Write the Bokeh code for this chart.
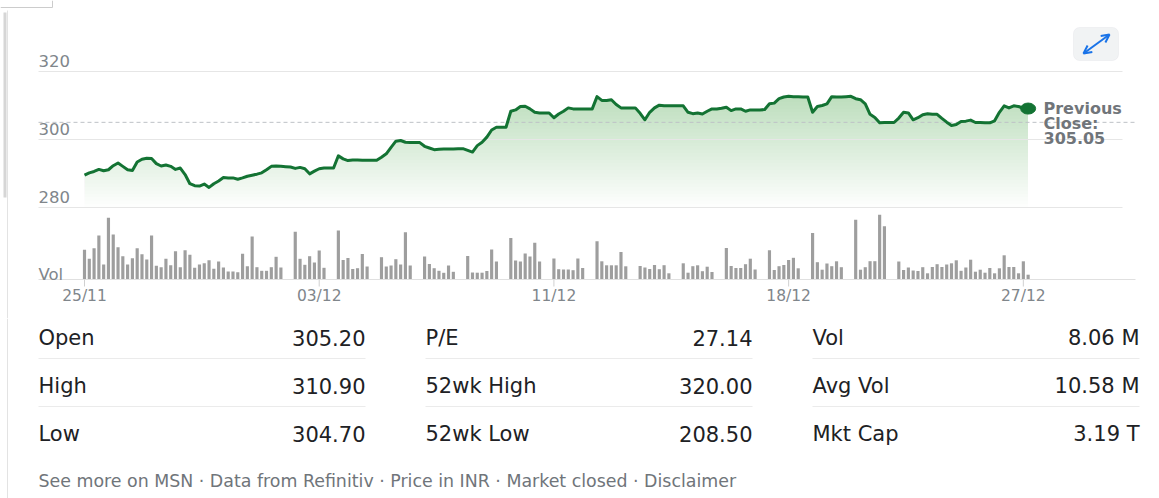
import numpy as np
from bokeh.plotting import figure
from bokeh.models import Range1d, BoxAnnotation, Arrow, OpenHead
from bokeh.layouts import column
from bokeh.core.properties import value
from bokeh.embed import file_html
from bokeh.resources import INLINE

# ---------------- data ----------------
x_tick_labels = ["25/11", "03/12", "11/12", "18/12", "27/12"]
x_tick_slots = [0, 49, 98, 147, 196]
y_ticks = [280, 300, 320]
previous_close = 305.05

# price per time slot (INR)
price = [
    289.5, 290.2, 290.6, 291.2, 290.8, 291.1, 292.3, 293.1, 292.1, 291.1,
    290.9, 293.4, 294.2, 294.5, 294.4, 292.9, 292.2, 292.5, 292.1, 291.2,
    291.6, 289.7, 287.0, 286.4, 286.3, 286.9, 285.9, 287.0, 287.8, 288.8,
    288.7, 288.7, 288.3, 288.7, 289.2, 289.5, 289.8, 290.2, 291.1, 292.1,
    292.2, 292.1,
    292.0, 291.9,
    291.5, 291.8, 291.4, 289.9, 290.7, 291.4, 291.6,
    291.6, 291.6,
    295.2, 294.3, 293.8, 294.0, 294.0, 293.9, 293.9,
    293.9, 293.9,
    294.8, 295.8, 297.7, 299.5, 299.7, 299.2, 299.1,
    299.1, 299.1,
    298.0, 297.5, 297.0, 297.1, 297.2, 297.2, 297.2,
    297.3, 297.3,
    296.8, 296.3, 298.2, 299.2, 300.7, 302.8, 303.6,
    303.6, 303.6,
    308.3, 308.7, 309.7, 309.8, 309.0, 308.0, 307.8,
    307.8, 307.8,
    306.4, 307.5, 308.3, 309.3, 309.0, 309.0, 309.0,
    309.0, 309.0,
    312.6, 311.5, 311.5, 311.7, 310.3, 309.3, 309.3,
    309.3, 309.3,
    307.7, 305.8, 308.0, 309.3, 310.1, 309.9, 309.9,
    309.9, 309.9,
    309.9, 308.0, 307.6, 307.8, 307.5, 308.3, 309.0,
    309.0, 309.2,
    309.5, 308.5, 309.0, 309.0, 308.3, 308.7, 308.7,
    308.7, 308.8,
    310.5, 310.7, 312.0, 312.5, 312.7, 312.6, 312.6,
    312.5, 312.5,
    308.0, 309.7, 310.0, 310.5, 312.6, 312.5, 312.5,
    312.6, 312.7,
    312.0, 311.7, 310.5, 307.4, 306.5, 304.9, 305.0,
    305.0, 305.0,
    306.3, 308.0, 307.8, 305.8, 306.4, 307.3, 307.6, 307.4, 307.4, 306.2,
    305.1, 304.1, 304.4, 305.3, 305.4, 305.7, 305.0, 305.0, 304.9, 304.9,
    305.5, 308.0, 309.9, 309.3, 309.9, 309.7, 309.2, 309.1,
]

# traded volume per slot (lakh shares); None = no trading in the slot
G = [None, None]
volume = (
    [29.7, 20.7, 31.3, 44.0, 15.0, 61.7, 45.0, 32.3, 23.3, 15.0,
     21.3, 31.3, 25.3, 20.0, 44.0, 13.7, 12.3, 20.7, 14.3, 28.3,
     12.3, 29.3, 24.7, 11.7, 15.0, 16.3, 19.3, 10.7, 18.0, 12.0,
     8.0, 8.0, 7.3, 25.7, 13.3, 43.0, 12.3, 8.7, 8.7, 12.3,
     22.7, 12.0] + G +
    [47.7, 20.7, 14.7, 23.3, 17.0, 29.0, 11.7] + G +
    [49.0, 19.5, 21.5, 10.5, 11.3, 25.5, 13.0] + G +
    [22.3, 13.0, 14.0, 20.3, 15.0, 47.3, 14.0] + G +
    [23.0, 15.5, 11.3, 8.7, 6.7, 14.0, 7.7] + G +
    [23.5, 7.0, 6.8, 6.8, 8.5, 30.0, 18.0] + G +
    [41.5, 19.0, 18.0, 26.0, 23.0, 36.7, 18.0] + G +
    [21.0, 10.3, 10.0, 10.0, 9.3, 21.0, 11.5] + G +
    [38.2, 18.2, 14.2, 14.2, 14.2, 27.5, 13.2] + G +
    [13.5, 12.0, 10.5, 14.5, 10.3, 14.3, 6.2] + G +
    [16.2, 6.8, 13.3, 14.2, 8.3, 12.8, 7.5] + G +
    [31.5, 13.5, 11.5, 11.5, 15.3, 20.8, 10.0] + G +
    [29.2, 9.5, 13.3, 14.5, 19.5, 21.7, 11.2] + G +
    [46.5, 17.3, 9.8, 16.0, 13.3, 18.2, 12.3] + G +
    [59.8, 9.8, 12.3, 18.3, 18.3, 64.8, 53.2] + G +
    [18.0, 9.5, 12.0, 9.0, 8.5, 12.3, 6.2, 12.5, 15.3, 12.5,
     15.0, 16.2, 19.2, 8.7, 12.0, 19.8, 7.8, 9.8, 6.8, 11.5,
     6.2, 11.2, 24.2, 12.5, 12.5, 6.2, 18.2, 4.8]
)

stat_labels = [["Open", "High", "Low"],
               ["P/E", "52wk High", "52wk Low"],
               ["Vol", "Avg Vol", "Mkt Cap"]]
stat_values = [["305.20", "310.90", "304.70"],
               ["27.14", "320.00", "208.50"],
               ["8.06 M", "10.58 M", "3.19 T"]]
footer = "See more on MSN \u00b7 Data from Refinitiv \u00b7 Price in INR \u00b7 Market closed \u00b7 Disclaimer"

# ---------------- layout constants ----------------
W = 1159
H1 = 318           # chart part
H2 = 498 - H1      # stats table part
X0 = 84.0          # page x of first slot
PITCH = 4.79       # px per slot
Y300 = 139.0       # page y of price 300
PPP = 3.4          # px per price unit
VBASE = 279.0      # page y of volume baseline (1 px per lakh)

FONT = "DejaVu Sans"
GRAY = "#80868b"
DARK = "#202124"
GREEN = "#137333"


def cx(px):
    return (px - X0) / PITCH


def cy(py):
    return 300 + (Y300 - py) / PPP


slots = np.arange(len(price))
price_arr = np.array(price)

p = figure(width=W, height=H1, output_backend="svg", toolbar_location=None,
           x_range=Range1d(cx(0), cx(W)), y_range=Range1d(cy(H1), cy(0)),
           min_border=0, outline_line_color=None, background_fill_color="white",
           border_fill_color="white")
p.axis.visible = False
p.grid.visible = False
p.extra_y_ranges = {"vol": Range1d(VBASE - H1, VBASE)}

# gradient fill under the price line (stacked translucent layers)
for lvl in np.arange(280, 313, 1.0):
    p.varea(x=slots, y1=np.full(len(slots), lvl), y2=np.maximum(price_arr, lvl),
            fill_color="#1e8e3e", fill_alpha=0.0095)

# grid lines
p.segment(x0=cx(38), x1=cx(1122), y0=y_ticks, y1=y_ticks, line_color="#e6e6e6", line_width=1)
# y tick labels
p.text(x=[cx(38)] * len(y_ticks), y=y_ticks, text=[str(t) for t in y_ticks],
       text_font=value(FONT), text_font_size="16.5px", text_color=GRAY,
       text_align="left", text_baseline="middle", y_offset=-11)

# previous close dashed line
p.segment(x0=[cx(38)], x1=[cx(1135)], y0=[previous_close], y1=[previous_close],
          line_color="#bdc1c6", line_dash="4 3", line_width=1)

# price line + last point
p.line(slots, price_arr, line_color=GREEN, line_width=3, line_join="round")
p.ellipse(x=[slots[-1]], y=[price[-1]], width=15, height=11,
          width_units="screen", height_units="screen", fill_color=GREEN, line_color=GREEN)

# previous close label
for txt, off in zip(["Previous", "Close:", "%.2f" % previous_close], [-13.5, 1.5, 16]):
    p.text(x=[cx(1043)], y=[previous_close], text=[txt], text_font=value(FONT),
           text_font_size="16px", text_font_style="bold", text_color="#70757a",
           text_align="left", text_baseline="middle", y_offset=off)

# volume bars
vx = [s for s, v in zip(slots, volume) if v is not None]
vv = [v for v in volume if v is not None]
p.vbar(x=vx, top=vv, bottom=0, width=0.66, y_range_name="vol",
       fill_color="#9e9e9e", line_color=None)
p.segment(x0=[cx(38)], x1=[cx(1135)], y0=[0], y1=[0], y_range_name="vol",
          line_color="#e0e0e0", line_width=1)
p.text(x=[cx(38)], y=[0], text=["Vol"], y_range_name="vol", text_font=value(FONT),
       text_font_size="16.5px", text_color=GRAY, text_align="left", text_baseline="middle",
       y_offset=-5)

# x ticks and labels
p.segment(x0=x_tick_slots, x1=x_tick_slots, y0=[0] * 5, y1=[-7] * 5, y_range_name="vol",
          line_color="#d0d0d0", line_width=1)
p.text(x=x_tick_slots, y=[0] * 5, text=x_tick_labels, y_range_name="vol",
       text_font=value(FONT), text_font_size="15.5px", text_color=GRAY,
       text_align="center", text_baseline="middle", y_offset=16)

# decorations: expand button, left border, scrollbar
p.add_layout(BoxAnnotation(left=cx(1073), right=cx(1118), top=cy(27), bottom=cy(60),
                           fill_color="#f1f3f4", fill_alpha=1, line_color="#dadce0",
                           line_width=1, border_radius=6))
blue = "#1a73e8"
p.add_layout(Arrow(start=OpenHead(size=8, line_color=blue, line_width=2),
                   end=OpenHead(size=8, line_color=blue, line_width=2),
                   x_start=cx(1083), y_start=cy(53), x_end=cx(1109), y_end=cy(34),
                   line_color=blue, line_width=2))
p.segment(x0=[cx(7)], x1=[cx(7)], y0=[cy(10)], y1=[cy(H1)], line_color="#e3e3e3", line_width=1)
p.segment(x0=[cx(4.5)], x1=[cx(4.5)], y0=[cy(12)], y1=[cy(197)], line_color="#d6d6d6", line_width=3)
p.segment(x0=[cx(0), cx(52)], x1=[cx(52), cx(52)], y0=[cy(7), cy(0)], y1=[cy(7), cy(7)],
          line_color="#cccccc", line_width=1)

# ---------------- stats table ----------------
t = figure(width=W, height=H2, output_backend="svg", toolbar_location=None,
           x_range=Range1d(0, W), y_range=Range1d(498, H1),
           min_border=0, outline_line_color=None, background_fill_color="white",
           border_fill_color="white")
t.axis.visible = False
t.grid.visible = False

col_left = [38, 425, 812]
col_right = [365, 752, 1139]
row_mid = [337, 385, 433]
for c in range(3):
    t.text(x=[col_left[c]] * 3, y=row_mid, text=stat_labels[c], text_font=value(FONT),
           text_font_size="21px", text_color=DARK, text_align="left", text_baseline="middle")
    t.text(x=[col_right[c]] * 3, y=row_mid, text=stat_values[c], text_font=value(FONT),
           text_font_size="21px", text_color=DARK, text_align="right", text_baseline="middle")
    t.segment(x0=[col_left[c]] * 2, x1=[col_right[c]] * 2, y0=[358, 406], y1=[358, 406],
              line_color="#ebebeb", line_width=1)
t.text(x=[38], y=[480], text=[footer], text_font=value(FONT), text_font_size="17.4px",
       text_color="#70757a", text_align="left", text_baseline="middle")
t.segment(x0=[7], x1=[7], y0=[H1], y1=[498], line_color="#e3e3e3", line_width=1)

layout = column(p, t, spacing=0)
open("out.html", "w").write(file_html(layout, INLINE))
